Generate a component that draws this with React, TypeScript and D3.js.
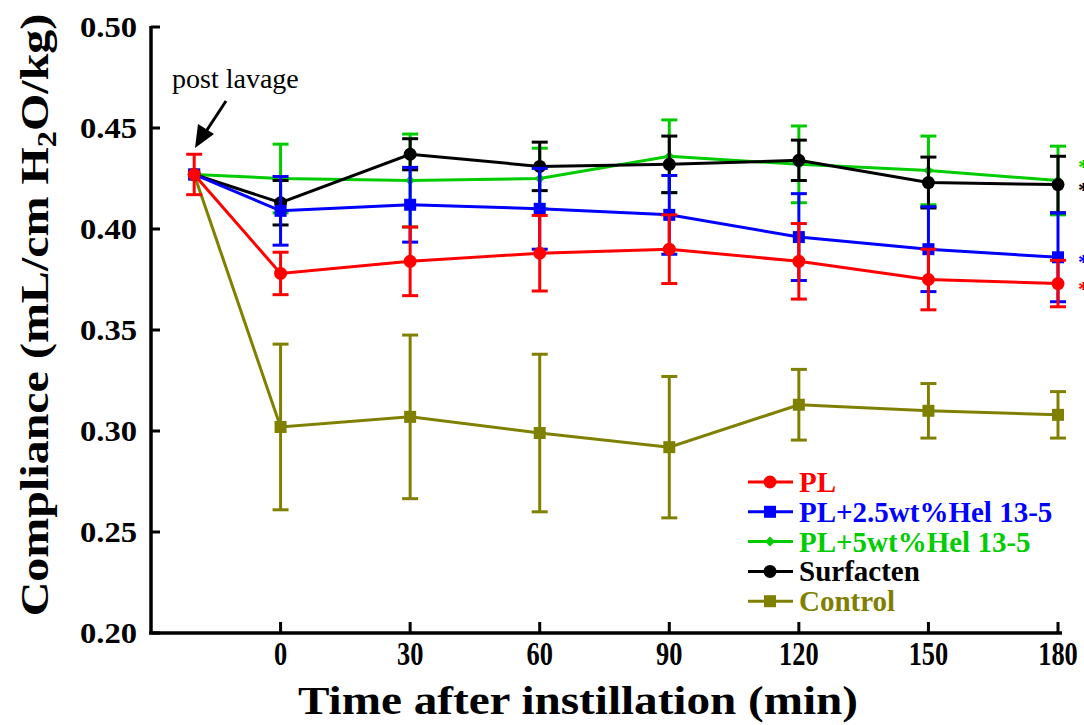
import React, { useEffect, useRef } from 'react'
import * as d3 from 'd3'

// time points (pre-instillation point is drawn at -20)
const times = [-20, 0, 30, 60, 90, 120, 150, 180]
const xTicks = [0, 30, 60, 90, 120, 150, 180]
const yTicks = [0.2, 0.25, 0.3, 0.35, 0.4, 0.45, 0.5]

const plMean = [0.427, 0.378, 0.384, 0.388, 0.39, 0.384, 0.375, 0.373]
const plErr = [0.01, 0.0105, 0.017, 0.0187, 0.017, 0.0187, 0.015, 0.0115]
const hel25Mean = [0.427, 0.409, 0.412, 0.41, 0.407, 0.396, 0.39, 0.386]
const hel25Err = [0, 0.017, 0.0185, 0.02, 0.0195, 0.0215, 0.021, 0.022]
const hel5Mean = [0.427, 0.425, 0.424, 0.425, 0.436, 0.432, 0.429, 0.424]
const hel5Err = [0, 0.017, 0.023, 0.015, 0.018, 0.019, 0.017, 0.017]
const surfMean = [0.427, 0.413, 0.437, 0.431, 0.432, 0.434, 0.423, 0.422]
const surfErr = [0, 0.011, 0.0077, 0.012, 0.014, 0.01, 0.0126, 0.014]
const ctrlMean = [0.427, 0.302, 0.307, 0.299, 0.292, 0.313, 0.31, 0.308]
const ctrlErr = [0, 0.041, 0.0405, 0.039, 0.035, 0.0175, 0.0135, 0.0115]

// significance marks at the right edge (value where they sit)
const starValues = [0.433, 0.422, 0.386, 0.373]
const starColors = ['#00cc00', '#000000', '#0000ff', '#ff0000']

const series = [
  { name: 'Control', mean: ctrlMean, err: ctrlErr, color: '#808000', marker: 'square' },
  { name: 'PL+5wt%Hel 13-5', mean: hel5Mean, err: hel5Err, color: '#00cc00', marker: 'diamond' },
  { name: 'Surfacten', mean: surfMean, err: surfErr, color: '#000000', marker: 'circle' },
  { name: 'PL+2.5wt%Hel 13-5', mean: hel25Mean, err: hel25Err, color: '#0000ff', marker: 'square' },
  { name: 'PL', mean: plMean, err: plErr, color: '#ff0000', marker: 'circle' }
]
const legendOrder = ['PL', 'PL+2.5wt%Hel 13-5', 'PL+5wt%Hel 13-5', 'Surfacten', 'Control']

const W = 1084
const H = 725
const serif = '"Liberation Serif", "Times New Roman", serif'

function drawMarker(g, type, x, y, color) {
  if (type === 'circle') {
    g.append('circle').attr('cx', x).attr('cy', y).attr('r', 6.5).attr('fill', color)
  } else if (type === 'square') {
    g.append('rect').attr('x', x - 6).attr('y', y - 6).attr('width', 12).attr('height', 12).attr('fill', color)
  } else {
    g.append('path')
      .attr('d', `M${x},${y - 5} L${x + 5},${y} L${x},${y + 5} L${x - 5},${y} Z`)
      .attr('fill', color)
  }
}

export default function App() {
  const ref = useRef(null)

  useEffect(() => {
    const svg = d3.select(ref.current)
    svg.selectAll('*').remove()

    const x = d3.scaleLinear().domain([-30, 180]).range([151, 1058])
    const y = d3.scaleLinear().domain([0.2, 0.5]).range([633, 27])

    // axes
    const axes = svg.append('g')
    axes.append('line').attr('x1', 151).attr('x2', 151).attr('y1', 26).attr('y2', 634)
      .attr('stroke', '#000').attr('stroke-width', 3.5)
    axes.append('line').attr('x1', 149).attr('x2', 1062).attr('y1', 633).attr('y2', 633)
      .attr('stroke', '#000').attr('stroke-width', 3.5)

    yTicks.forEach(t => {
      axes.append('line').attr('x1', 151).attr('x2', 160).attr('y1', y(t)).attr('y2', y(t))
        .attr('stroke', '#000').attr('stroke-width', 3)
      axes.append('text')
        .attr('x', 137).attr('y', y(t) + 10)
        .attr('text-anchor', 'end')
        .attr('font-family', serif).attr('font-weight', 'bold').attr('font-size', 30)
        .attr('textLength', 57).attr('lengthAdjust', 'spacingAndGlyphs')
        .text(t.toFixed(2))
    })
    xTicks.forEach(t => {
      axes.append('line').attr('x1', x(t)).attr('x2', x(t)).attr('y1', 633).attr('y2', 622)
        .attr('stroke', '#000').attr('stroke-width', 3)
      const label = String(t)
      axes.append('text')
        .attr('x', x(t)).attr('y', 665)
        .attr('text-anchor', 'middle')
        .attr('font-family', serif).attr('font-weight', 'bold').attr('font-size', 33)
        .attr('textLength', label.length * 13.2).attr('lengthAdjust', 'spacingAndGlyphs')
        .text(label)
    })

    axes.append('text')
      .attr('x', 578).attr('y', 714)
      .attr('text-anchor', 'middle')
      .attr('font-family', serif).attr('font-weight', 'bold').attr('font-size', 40)
      .attr('textLength', 560).attr('lengthAdjust', 'spacingAndGlyphs')
      .text('Time after instillation (min)')

    const yt = axes.append('text')
      .attr('transform', 'translate(48,315) rotate(-90) scale(1.2,1)')
      .attr('text-anchor', 'middle')
      .attr('font-family', serif).attr('font-weight', 'bold').attr('font-size', 40)
    yt.append('tspan').text('Compliance (mL/cm H')
    yt.append('tspan').attr('font-size', 27).attr('dy', 8).text('2')
    yt.append('tspan').attr('dy', -8).text('O/kg)')

    // series
    const line = d3.line().x((d, i) => x(times[i])).y(d => y(d))
    series.forEach(s => {
      const g = svg.append('g')
      g.append('path').datum(s.mean).attr('d', line)
        .attr('fill', 'none').attr('stroke', s.color).attr('stroke-width', 3)
      s.mean.forEach((m, i) => {
        const e = s.err[i]
        if (e > 0) {
          const cx = x(times[i])
          g.append('line').attr('x1', cx).attr('x2', cx).attr('y1', y(m - e)).attr('y2', y(m + e))
            .attr('stroke', s.color).attr('stroke-width', 3)
          ;[m - e, m + e].forEach(v => {
            g.append('line').attr('x1', cx - 8).attr('x2', cx + 8).attr('y1', y(v)).attr('y2', y(v))
              .attr('stroke', s.color).attr('stroke-width', 3)
          })
        }
        drawMarker(g, s.marker, x(times[i]), y(m), s.color)
      })
    })

    // significance stars, partly cut at the right edge
    starValues.forEach((v, i) => {
      svg.append('text')
        .attr('x', 1078).attr('y', y(v) + 12)
        .attr('font-family', serif).attr('font-weight', 'bold').attr('font-size', 22)
        .attr('fill', starColors[i])
        .text('*')
    })

    // annotation
    svg.append('text')
      .attr('x', 172).attr('y', 88)
      .attr('font-family', serif).attr('font-size', 28)
      .text('post lavage')
    svg.append('line').attr('x1', 226).attr('y1', 101).attr('x2', 205).attr('y2', 133)
      .attr('stroke', '#000').attr('stroke-width', 3)
    svg.append('path').attr('d', 'M195,148 L198,124 L214,134 Z').attr('fill', '#000')

    // legend
    const lg = svg.append('g')
    legendOrder.forEach((name, i) => {
      const s = series.find(d => d.name === name)
      const ly = 482 + i * 29.8
      lg.append('line').attr('x1', 748).attr('x2', 793).attr('y1', ly).attr('y2', ly)
        .attr('stroke', s.color).attr('stroke-width', 3)
      drawMarker(lg, s.marker, 770, ly, s.color)
      lg.append('text')
        .attr('x', 799).attr('y', ly + 10)
        .attr('font-family', serif).attr('font-weight', 'bold').attr('font-size', 29)
        .attr('fill', s.color)
        .text(name)
    })
  }, [])

  return (
    <svg
      ref={ref}
      width={W}
      height={H}
      style={{ position: 'absolute', left: 0, top: 0, background: '#fff' }}
    />
  )
}
